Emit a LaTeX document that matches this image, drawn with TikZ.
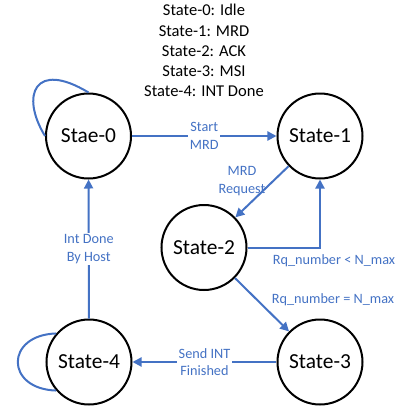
\documentclass[tikz,border=0pt]{standalone}
\usepackage{fontspec}
\setmainfont{Carlito}
\usetikzlibrary{arrows.meta}
\definecolor{offblue}{HTML}{4472C4}
\tikzset{
  stnode/.style={circle,draw=black,line width=2bp,minimum size=85bp,inner sep=0pt,font=\fontsize{21.5}{24}\selectfont},
  conn/.style={draw=offblue,line width=2bp},
  arr/.style={conn,-{Triangle[length=9bp,width=9bp]}},
  lbl/.style={text=offblue,align=center,inner sep=1.5bp,font=\fontsize{14.3}{17.5}\selectfont},
  lblw/.style={lbl,fill=white},
  legend/.style={align=center,font=\fontsize{16.6}{20.2}\selectfont}
}
\begin{document}
\begin{tikzpicture}[x=1bp,y=-1bp]
\useasboundingbox (0,0) rectangle (398,409);
\node[legend] (leg) at (204,50.5) {State-0: Idle\\State-1: MRD\\State-2: ACK\\State-3: MSI\\State-4: INT Done};
\node[stnode] (s0) at (88.5,136) {Stae-0};
\node[stnode] (s1) at (320,136) {State-1};
\node[stnode] (s2) at (204,247.5) {State-2};
\node[stnode] (s3) at (320,362) {State-3};
\node[stnode] (s4) at (89,362) {State-4};
% self loops
\draw[conn] (s0.180) .. controls (20,95) and (35,60) .. (s0.90);
\draw[conn] (s4.139) .. controls (5,335) and (5,389) .. (s4.221);
% transitions
\draw[arr] (s0) -- (s1) node[lblw,midway] (l01) {Start\\MRD};
\draw[arr] (s1) -- (s2);
\node[lbl] (l12) at (242,181) {MRD\\Request};
\draw[arr] (s2.east) -| (s1.south);
\node[lbl] (l21) at (334,260.5) {Rq\_number < N\_max};
\draw[arr] (s2) -- (s3);
\node[lbl] (l23) at (333,300) {Rq\_number = N\_max};
\draw[arr] (s3) -- (s4) node[lblw,midway] (l34) {Send INT\\Finished};
\draw[arr] (s4) -- (s0) node[lblw,pos=0.5] (l40) {Int Done\\By Host};
\end{tikzpicture}
\end{document}
